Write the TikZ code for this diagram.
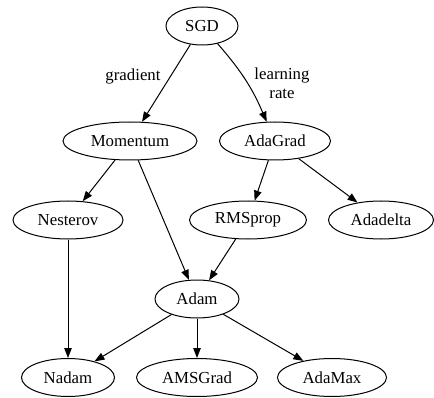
\documentclass[tikz,border=0pt]{standalone}
\usepackage{fontspec}
\setmainfont{Liberation Serif}
\usetikzlibrary{shapes.geometric,arrows.meta}
\begin{document}
\begin{tikzpicture}[x=1pt,y=1pt,
  nd/.style={draw,ellipse,line width=1pt,inner sep=0pt,minimum height=38pt,font=\fontsize{16.8}{19}\selectfont},
  edge/.style={draw,line width=1pt,-{Triangle[length=10pt,width=7.5pt]}},
  lbl/.style={font=\fontsize{16.8}{19}\selectfont,align=center}]
\useasboundingbox (0,0) rectangle (434,397);
\node[nd,minimum width=72pt] (sgd) at (202,371) {SGD};
\node[nd,minimum width=134pt] (mom) at (130,256) {Momentum};
\node[nd,minimum width=111pt] (adagrad) at (275,256) {AdaGrad};
\node[nd,minimum width=110pt] (nest) at (68,177) {Nesterov};
\node[nd,minimum width=117pt] (rms) at (248,177) {RMSprop};
\node[nd,minimum width=105pt] (adadelta) at (381,177) {Adadelta};
\node[nd,minimum width=84pt] (adam) at (197,98) {Adam};
\node[nd,minimum width=93pt] (nadam) at (68,19.5) {Nadam};
\node[nd,minimum width=121pt] (ams) at (197,19.5) {AMSGrad};
\node[nd,minimum width=109pt] (adamax) at (332,19.5) {AdaMax};
\node[lbl] (lgrad) at (133,321) {gradient};
\node[lbl] (llr) at (282,314) {learning\\rate};
\path[edge] (sgd) -- (mom);
\path[edge] (sgd) to[bend left=9] (adagrad);
\path[edge] (mom) -- (nest);
\path[edge] (mom) -- (adam);
\path[edge] (adagrad) -- (rms);
\path[edge] (adagrad) -- (adadelta);
\path[edge] (rms) -- (adam);
\path[edge] (nest) -- (nadam);
\path[edge] (adam) -- (nadam);
\path[edge] (adam) -- (ams);
\path[edge] (adam) -- (adamax);
\end{tikzpicture}
\end{document}
